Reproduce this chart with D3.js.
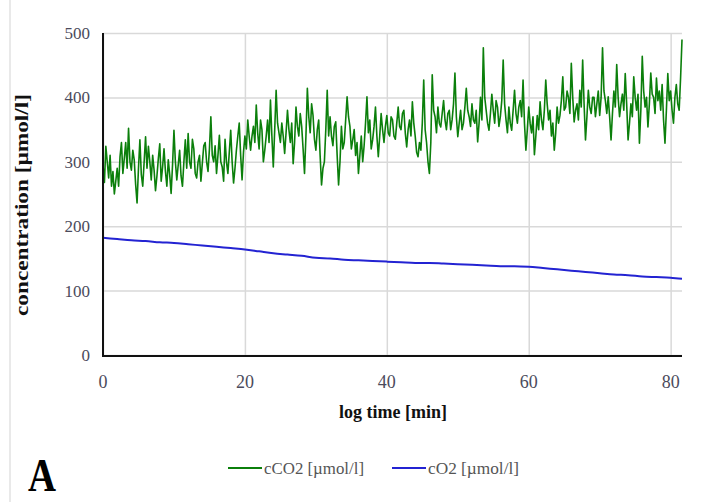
<!DOCTYPE html>
<html>
<head>
<meta charset="utf-8">
<script src="https://cdn.jsdelivr.net/npm/d3@7"></script>
<style>
  body { margin: 0; background: #fff; }
  text { font-family: "Liberation Serif", "DejaVu Serif", serif; }
</style>
</head>
<body>
<div id="chart"></div>
<script>
var co2Step = 0.2
var co2Values = [
  295, 268, 324, 300, 275, 310, 262, 285, 250, 270, 290, 262, 308, 330, 282, 305, 330, 290, 352, 300,
  287, 318, 303, 265, 236, 290, 334, 280, 262, 300, 339, 290, 324, 300, 272, 310, 287, 255, 278, 305,
  328, 270, 292, 320, 285, 262, 303, 280, 251, 295, 349, 300, 272, 295, 318, 278, 262, 300, 334, 290,
  344, 300, 290, 335, 320, 282, 275, 300, 310, 270, 298, 325, 330, 300, 285, 320, 370, 310, 300, 325,
  282, 310, 341, 300, 292, 270, 335, 300, 282, 315, 349, 300, 267, 290, 318, 340, 360, 310, 272, 315,
  340, 320, 365, 340, 318, 340, 355, 330, 388, 345, 320, 365, 350, 300, 318, 340, 365, 330, 396, 340,
  292, 350, 411, 360, 345, 330, 360, 340, 313, 345, 380, 350, 330, 360, 297, 330, 385, 355, 340, 375,
  355, 320, 282, 340, 414, 370, 345, 390, 372, 335, 318, 350, 365, 310, 264, 290, 300, 350, 411, 340,
  370, 340, 325, 355, 362, 310, 264, 300, 355, 320, 330, 365, 401, 370, 355, 320, 334, 350, 310, 330,
  282, 310, 340, 300, 325, 360, 401, 345, 365, 320, 334, 355, 385, 340, 308, 340, 375, 350, 330, 355,
  372, 345, 340, 370, 365, 340, 335, 360, 385, 355, 350, 375, 380, 345, 323, 350, 365, 340, 393, 360,
  340, 315, 308, 330, 318, 360, 427, 350, 330, 300, 282, 330, 435, 380, 370, 345, 385, 360, 354, 375,
  395, 365, 350, 375, 380, 350, 365, 390, 438, 370, 339, 360, 380, 350, 360, 385, 414, 380, 370, 355,
  390, 365, 360, 380, 331, 360, 400, 365, 477, 400, 380, 360, 349, 375, 405, 380, 360, 395, 385, 355,
  370, 395, 458, 390, 365, 345, 385, 360, 349, 380, 411, 375, 360, 385, 395, 370, 427, 360, 318, 350,
  385, 360, 345, 370, 311, 340, 372, 350, 393, 365, 350, 380, 427, 390, 365, 380, 340, 360, 318, 345,
  385, 360, 372, 395, 432, 380, 385, 410, 400, 375, 453, 400, 362, 380, 390, 365, 411, 385, 458, 390,
  334, 370, 411, 385, 375, 400, 400, 370, 390, 410, 372, 400, 477, 410, 395, 375, 401, 370, 334, 375,
  410, 385, 451, 400, 370, 390, 405, 380, 437, 390, 334, 360, 390, 370, 432, 400, 380, 405, 329, 380,
  464, 410, 385, 400, 354, 390, 438, 405, 400, 375, 430, 395, 410, 380, 420, 365, 329, 380, 437, 395,
  410, 380, 360, 400, 420, 390, 380, 430, 490
]
// cO2 is smooth, read every 2 min
var o2Times = [0, 2, 4, 6, 8, 10, 12, 14, 16, 18, 20, 22, 24, 26, 28, 30, 32, 34, 36, 38, 40,
  42, 44, 46, 48, 50, 52, 54, 56, 58, 60, 62, 64, 66, 68, 70, 72, 74, 76, 78, 80, 81.6]
var o2Values = [182, 180, 178, 177, 175, 174, 172, 170, 168, 166, 164, 161, 158, 156, 154, 151, 150, 148, 147, 146, 145,
  144, 143, 143, 142, 141, 140, 139, 138, 138, 137, 135, 133, 131, 129, 127, 125, 124, 122, 121, 120, 118.5]
var xTicks = [0, 20, 40, 60, 80]
var yTicks = [0, 100, 200, 300, 400, 500]
var seriesNames = ["cCO2 [µmol/l]", "cO2 [µmol/l]"]
var seriesColors = ["#0b7f0b", "#2323d2"]

var width = 720
var height = 502
var plotLeft = 103, plotRight = 682, plotTop = 33, plotBottom = 355

var co2 = co2Values.map(function(v, i) { return [i * co2Step, v]; })
var o2 = o2Times.map(function(t, i) { return [t, o2Values[i]]; })

var sx = d3.scaleLinear().domain([0, d3.max(co2, function(d) { return d[0]; })]).range([plotLeft, plotRight])
var sy = d3.scaleLinear().domain([0, 500]).range([plotBottom, plotTop])

var svg = d3.select("#chart").append("svg")
  .attr("width", width)
  .attr("height", height)

// faint frame on the left
svg.append("line")
  .attr("x1", 10).attr("x2", 10).attr("y1", 0).attr("y2", height)
  .attr("stroke", "#e2e2e2").attr("stroke-width", 1.5)

// gridlines
svg.append("g")
  .attr("transform", "translate(0," + plotBottom + ")")
  .call(d3.axisBottom(sx).tickValues(xTicks).tickSize(-(plotBottom - plotTop)).tickFormat(""))
  .call(function(g) { g.select(".domain").remove(); })
  .selectAll("line").attr("stroke", "#d9d9d9").attr("stroke-width", 1.5)
svg.append("g")
  .attr("transform", "translate(" + plotLeft + ",0)")
  .call(d3.axisLeft(sy).tickValues(yTicks).tickSize(-(plotRight - plotLeft)).tickFormat(""))
  .call(function(g) { g.select(".domain").remove(); })
  .selectAll("line").attr("stroke", "#d9d9d9").attr("stroke-width", 1.5)

var line = d3.line().x(function(d) { return sx(d[0]); }).y(function(d) { return sy(d[1]); })

svg.append("path").datum(co2)
  .attr("d", line)
  .attr("fill", "none")
  .attr("stroke", seriesColors[0])
  .attr("stroke-width", 1.6)
  .attr("stroke-linejoin", "round")

svg.append("path").datum(o2)
  .attr("d", line.curve(d3.curveMonotoneX))
  .attr("fill", "none")
  .attr("stroke", seriesColors[1])
  .attr("stroke-width", 2)

// axis lines
svg.append("line")
  .attr("x1", plotLeft).attr("x2", plotLeft).attr("y1", plotTop).attr("y2", plotBottom + 1)
  .attr("stroke", "#111").attr("stroke-width", 2)
svg.append("line")
  .attr("x1", plotLeft - 1).attr("x2", plotRight).attr("y1", plotBottom + 1).attr("y2", plotBottom + 1)
  .attr("stroke", "#111").attr("stroke-width", 2)

// tick labels
svg.selectAll(".ylab").data(yTicks).enter().append("text")
  .attr("x", 90)
  .attr("y", function(d) { return sy(d) + 6; })
  .attr("text-anchor", "end")
  .attr("font-size", "17px")
  .attr("fill", "#4b4b5c")
  .text(function(d) { return d; })
svg.selectAll(".xlab").data(xTicks).enter().append("text")
  .attr("x", function(d) { return sx(d); })
  .attr("y", 388)
  .attr("text-anchor", "middle")
  .attr("font-size", "18px")
  .attr("fill", "#4b4b5c")
  .text(function(d) { return d; })

// axis titles
svg.append("text")
  .attr("x", 393)
  .attr("y", 418)
  .attr("text-anchor", "middle")
  .attr("font-size", "18px")
  .attr("font-weight", "bold")
  .attr("fill", "#111")
  .text("log time [min]")
svg.append("text")
  .attr("transform", "translate(28," + 205 + ") rotate(-90)")
  .attr("text-anchor", "middle")
  .attr("font-size", "19px")
  .attr("font-weight", "bold")
  .attr("fill", "#111")
  .attr("textLength", 222)
  .attr("lengthAdjust", "spacingAndGlyphs")
  .text("concentration [µmol/l]")

// panel letter
svg.append("text")
  .attr("x", 28)
  .attr("y", 491)
  .attr("font-size", "46px")
  .attr("font-weight", "bold")
  .attr("fill", "#000")
  .attr("textLength", 28)
  .attr("lengthAdjust", "spacingAndGlyphs")
  .text("A")

// legend
var legX = [228, 392]
var legW = [100, 91]
seriesNames.forEach(function(name, i) {
  svg.append("line")
    .attr("x1", legX[i]).attr("x2", legX[i] + 34)
    .attr("y1", 468).attr("y2", 468)
    .attr("stroke", seriesColors[i]).attr("stroke-width", 2)
  svg.append("text")
    .attr("x", legX[i] + 36)
    .attr("y", 474)
    .attr("font-size", "17px")
    .attr("fill", "#555")
    .attr("textLength", legW[i])
    .attr("lengthAdjust", "spacingAndGlyphs")
    .text(name)
})
</script>
</body>
</html>
